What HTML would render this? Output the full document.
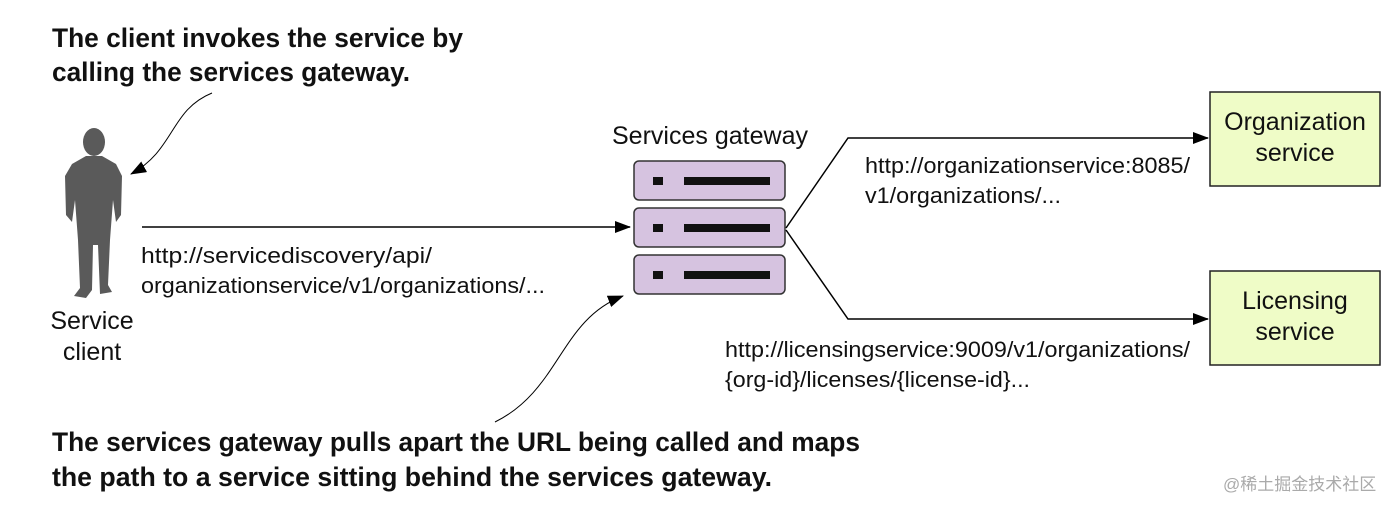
<!DOCTYPE html>
<html><head><meta charset="utf-8"><style>
html,body{margin:0;padding:0;background:#fff;width:1400px;height:510px;overflow:hidden}
svg{display:block}
.t{font-family:"Liberation Sans",Arial,sans-serif;font-size:22.5px;fill:#111}
.b{font-family:"Liberation Sans",Arial,sans-serif;font-size:27px;font-weight:bold;fill:#111}
.n{font-family:"Liberation Sans",Arial,sans-serif;font-size:25px;fill:#111}
</style></head><body>
<svg width="1400" height="510" viewBox="0 0 1400 510" xmlns="http://www.w3.org/2000/svg">
<defs><marker id="a" markerWidth="16" markerHeight="12" refX="15" refY="6" orient="auto" markerUnits="userSpaceOnUse"><path d="M0,0 L16,6 L0,12 z" fill="#000"/></marker></defs>
<text class="b" x="52" y="47" textLength="411" lengthAdjust="spacingAndGlyphs">The client invokes the service by</text>
<text class="b" x="52" y="81" textLength="358" lengthAdjust="spacingAndGlyphs">calling the services gateway.</text>
<text class="b" x="52" y="451" textLength="808" lengthAdjust="spacingAndGlyphs">The services gateway pulls apart the URL being called and maps</text>
<text class="b" x="52" y="486" textLength="720" lengthAdjust="spacingAndGlyphs">the path to a service sitting behind the services gateway.</text>
<!-- person -->
<g fill="#5a5a5a">
<ellipse cx="94" cy="142" rx="11" ry="14"/>
<path d="M86,156 L102,156 L116,164 L122,176 L121,215 L116,222 L113,200 L110,240 L108,285 L112,292 L100,294 L98,245 L93,245 L92,290 L86,298 L74,296 L80,288 L78,240 L75,200 L72,222 L66,215 L65,176 L72,164 Z"/>
</g>
<text class="n" x="92" y="329" text-anchor="middle">Service</text>
<text class="n" x="92" y="360" text-anchor="middle">client</text>
<path d="M212,93 C170,110 175,150 131,174" fill="none" stroke="#000" stroke-width="1" marker-end="url(#a)"/>
<path d="M495,422 C560,390 560,320 623,296" fill="none" stroke="#000" stroke-width="1" marker-end="url(#a)"/>
<line x1="142" y1="227" x2="630" y2="227" stroke="#000" stroke-width="1.5" marker-end="url(#a)"/>
<text class="t" x="141" y="263" textLength="291" lengthAdjust="spacingAndGlyphs">http://servicediscovery/api/</text>
<text class="t" x="141" y="293" textLength="404" lengthAdjust="spacingAndGlyphs">organizationservice/v1/organizations/...</text>
<text class="n" x="612" y="144" textLength="196" lengthAdjust="spacingAndGlyphs">Services gateway</text>
<g stroke="#333" stroke-width="1.5" fill="#d6c3e0">
<rect x="634" y="161" width="151" height="39" rx="5"/>
<rect x="634" y="208" width="151" height="39" rx="5"/>
<rect x="634" y="255" width="151" height="39" rx="5"/>
</g>
<g fill="#111">
<rect x="653" y="177" width="10" height="8"/><rect x="684" y="177" width="86" height="8"/>
<rect x="653" y="224" width="10" height="8"/><rect x="684" y="224" width="86" height="8"/>
<rect x="653" y="271" width="10" height="8"/><rect x="684" y="271" width="86" height="8"/>
</g>
<polyline points="786,228 848,138 1208,138" fill="none" stroke="#000" stroke-width="1.5" marker-end="url(#a)"/>
<polyline points="786,230 848,319 1208,319" fill="none" stroke="#000" stroke-width="1.5" marker-end="url(#a)"/>
<text class="t" x="865" y="173" textLength="325" lengthAdjust="spacingAndGlyphs">http://organizationservice:8085/</text>
<text class="t" x="865" y="203" textLength="196" lengthAdjust="spacingAndGlyphs">v1/organizations/...</text>
<text class="t" x="725" y="357" textLength="465" lengthAdjust="spacingAndGlyphs">http://licensingservice:9009/v1/organizations/</text>
<text class="t" x="725" y="387" textLength="305" lengthAdjust="spacingAndGlyphs">{org-id}/licenses/{license-id}...</text>
<rect x="1210" y="92" width="170" height="94" fill="#effcc7" stroke="#222" stroke-width="1.5"/>
<text class="n" x="1295" y="130" text-anchor="middle">Organization</text>
<text class="n" x="1295" y="161" text-anchor="middle">service</text>
<rect x="1210" y="271" width="170" height="94" fill="#effcc7" stroke="#222" stroke-width="1.5"/>
<text class="n" x="1295" y="309" text-anchor="middle">Licensing</text>
<text class="n" x="1295" y="340" text-anchor="middle">service</text>
<text x="1223" y="490" style="font-family:'Liberation Sans','Noto Sans CJK SC',sans-serif;font-size:17px;fill:#aaa">@稀土掘金技术社区</text>
</svg>
</body></html>
